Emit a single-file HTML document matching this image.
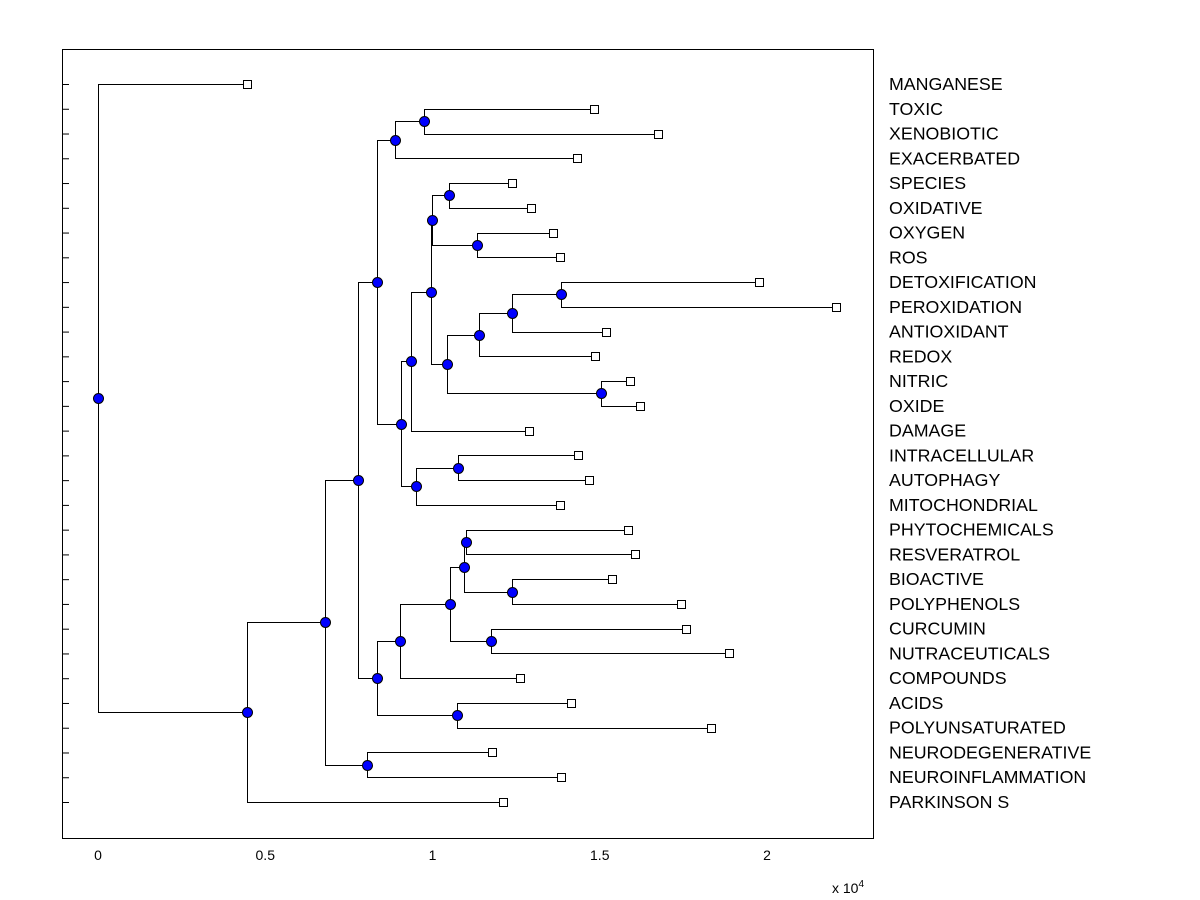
<!DOCTYPE html>
<html><head><meta charset="utf-8"><style>
html,body{margin:0;padding:0;background:#fff;}
svg{display:block;font-family:"Liberation Sans",Arial,sans-serif;}
</style></head><body>
<svg id="chart" width="1200" height="900">
<rect x="0" y="0" width="1200" height="900" fill="#fff"/>
<rect x="62.5" y="49.5" width="811" height="789" fill="none" stroke="#000"/>
<g id="ticks"></g><g id="links"></g><g id="marks"></g><g id="labels"></g>
<text x="832" y="893" font-size="14">x 10<tspan dy="-6" font-size="10">4</tspan></text>
</svg>
<script>
const leafNames=["MANGANESE","TOXIC","XENOBIOTIC","EXACERBATED","SPECIES","OXIDATIVE","OXYGEN","ROS","DETOXIFICATION","PEROXIDATION","ANTIOXIDANT","REDOX","NITRIC","OXIDE","DAMAGE","INTRACELLULAR","AUTOPHAGY","MITOCHONDRIAL","PHYTOCHEMICALS","RESVERATROL","BIOACTIVE","POLYPHENOLS","CURCUMIN","NUTRACEUTICALS","COMPOUNDS","ACIDS","POLYUNSATURATED","NEURODEGENERATIVE","NEUROINFLAMMATION","PARKINSON S"];
const leafValues=[0.445,1.483,1.674,1.432,1.238,1.294,1.360,1.381,1.976,2.206,1.519,1.486,1.590,1.620,1.288,1.435,1.468,1.381,1.584,1.605,1.537,1.743,1.758,1.886,1.262,1.414,1.833,1.178,1.384,1.211];
const nodeLeft=[1,30,4,6,32,8,35,36,12,37,34,40,15,42,41,31,18,20,46,22,48,50,25,51,45,27,54,56,0];
const nodeRight=[2,3,5,7,33,9,10,11,13,38,39,14,16,17,43,44,19,21,47,23,49,24,26,52,53,28,55,29,57];
const nodeValues=[0.975,0.888,1.049,1.133,0.999,1.384,1.238,1.139,1.504,1.043,0.996,0.936,1.076,0.951,0.906,0.834,1.100,1.238,1.094,1.175,1.052,0.903,1.073,0.834,0.777,0.804,0.679,0.445,0];
const xTicks=[0,0.5,1,1.5,2];
const xTickLabels=["0","0.5","1","1.5","2"];

const NS="http://www.w3.org/2000/svg";
const X=v=>98+v*334.5;
const Y=i=>84+i*(718/29);
function mk(tag,attrs,parent){const e=document.createElementNS(NS,tag);for(const k in attrs)e.setAttribute(k,attrs[k]);document.getElementById(parent).appendChild(e);return e;}
const n=leafNames.length;
const px=[],py=[];
leafNames.forEach((nm,i)=>{px[i]=X(leafValues[i]);py[i]=Y(i);});
nodeValues.forEach((v,j)=>{const id=n+j;px[id]=X(v);py[id]=(py[nodeLeft[j]]+py[nodeRight[j]])/2;});
leafNames.forEach((nm,i)=>{
 const t=mk('line',{x1:62,x2:69,y1:Y(i)+0.5,y2:Y(i)+0.5,stroke:'#000'},'ticks');
 
 
 const l=mk('text',{x:889,y:Y(i)+6,'font-size':17.8},'labels');l.textContent=nm;
 
 
});
xTicks.forEach((v,i)=>{
 const t=mk('text',{x:X(v),y:860,'font-size':14,'text-anchor':'middle'},'labels');t.textContent=xTickLabels[i];
 
 
});
nodeValues.forEach((v,j)=>{
 const id=n+j,a=nodeLeft[j],b=nodeRight[j],x=Math.round(px[id])+0.5;
 const ya=Math.round(py[a])+0.5,yb=Math.round(py[b])+0.5;
 const p=mk('path',{d:`M${Math.round(px[a])+0.5},${ya}H${x}V${yb}H${Math.round(px[b])+0.5}`,fill:'none',stroke:'#000','stroke-width':1},'links');
 
 
});
leafNames.forEach((nm,i)=>{
 const r=mk('rect',{x:Math.round(px[i])-3.5,y:Math.round(py[i])-3.5,width:8,height:8,fill:'#fff',stroke:'#000'},'marks');
 
 
});
nodeValues.forEach((v,j)=>{
 const id=n+j;
 const c=mk('circle',{cx:Math.round(px[id])+0.5,cy:Math.round(py[id])+0.5,r:5,fill:'#0000ff',stroke:'#000','stroke-width':1},'marks');
 
 
});
</script>
</body></html>
